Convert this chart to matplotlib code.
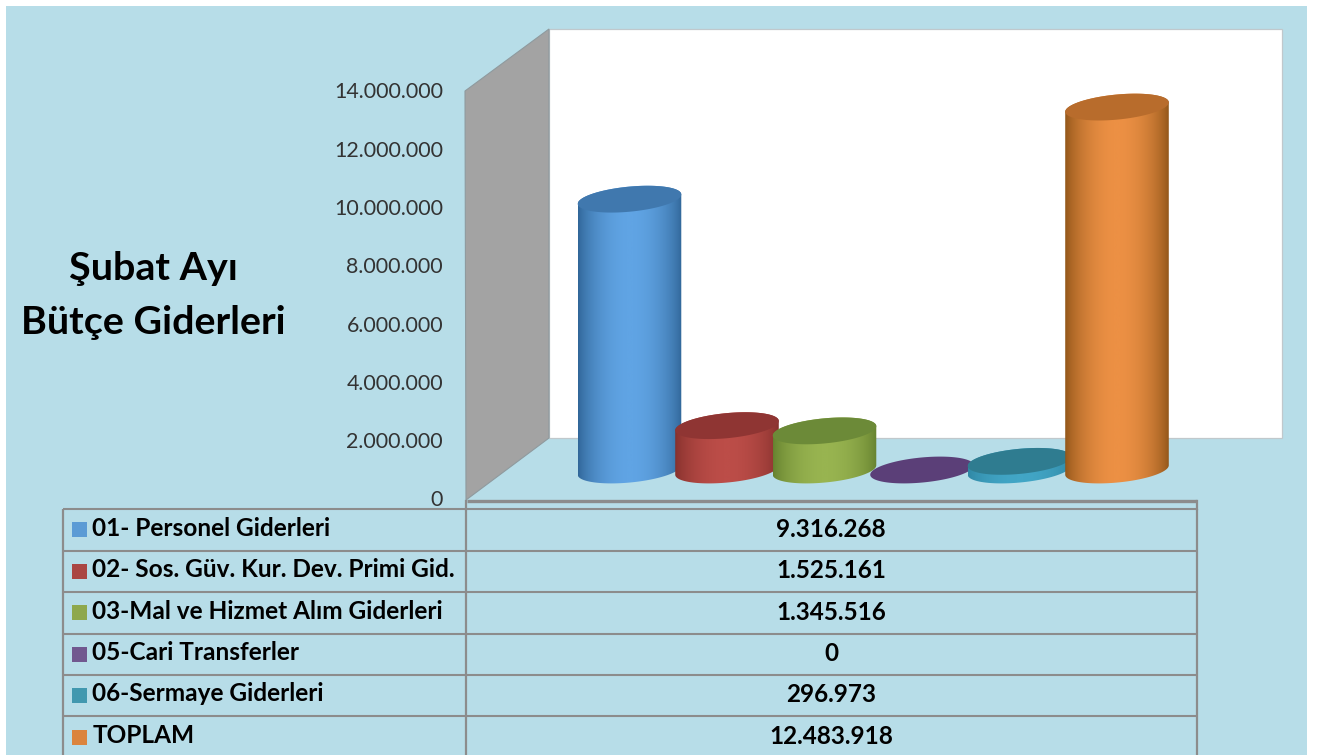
import numpy as np
import matplotlib
matplotlib.use('Agg')
import matplotlib.pyplot as plt
from matplotlib.colors import LinearSegmentedColormap
from matplotlib.path import Path
from matplotlib.patches import Polygon, Rectangle

W, H = 1317, 755

categories = ['01- Personel Giderleri', '02- Sos. Güv. Kur. Dev. Primi Gid.',
              '03-Mal ve Hizmet Alım Giderleri', '05-Cari Transferler',
              '06-Sermaye Giderleri', 'TOPLAM']
values = [9316268, 1525161, 1345516, 0, 296973, 12483918]
yticks = [0, 2000000, 4000000, 6000000, 8000000, 10000000, 12000000, 14000000]
legend_colors = ['#5b9bd5', '#aa4643', '#8ea84c', '#71588f', '#4198af', '#db843d']
side_dark = ['#2f6496', '#84302c', '#64802e', '#5b3f78', '#2f86a3', '#8f5418']
side_light = ['#60a4e4', '#bc4d48', '#98b450', '#5b3f78', '#42a6c6', '#ec9044']
top_colors = ['#4078ae', '#8f3533', '#6c8a38', '#5b3f78', '#2f7c90', '#b86c2c']

BG = '#b7dde8'
LINE = '#8c8c8c'
FONT = 'Lato'

fig = plt.figure(figsize=(W / 100, H / 100), dpi=100, facecolor='white')


def axes_px(x0, y0, x1, y1, **kw):
    # axes from pixel box, y counted from the top of the picture
    return fig.add_axes([x0 / W, 1 - y1 / H, (x1 - x0) / W, (y1 - y0) / H], **kw)


# background, walls
bg = axes_px(0, 0, W, H)
bg.set_xlim(0, W)
bg.set_ylim(H, 0)
bg.axis('off')
bg.add_patch(Rectangle((6, 6), 1301, H, fc=BG, ec='none'))
bg.add_patch(Rectangle((549, 29), 733, 409, fc='white', ec='#c0c8cc', lw=0.9))
bg.add_patch(Polygon([(465, 91), (549, 29), (549, 438), (466, 500)], fc='#a3a3a3', ec='#8f9a9e', lw=0.8))
bg.plot([467, 1197], [501, 501], color=LINE, lw=2.4, solid_capstyle='butt')
bg.text(153.5, 269, 'Şubat Ayı', ha='center', va='center', fontsize=28.4,
        fontweight='bold', family=FONT, color='black')
bg.text(153.5, 323, 'Bütçe Giderleri', ha='center', va='center', fontsize=28.4,
        fontweight='bold', family=FONT, color='black')

# value axis, front edge of the left wall
ax_y = axes_px(465, 90.5, 549, 498.5)
ax_y.patch.set_visible(False)
ax_y.set_ylim(0, 14000000)
ax_y.set_xticks([])
ax_y.set_yticks(yticks)
ax_y.set_yticklabels([f'{v:,}'.replace(',', '.') for v in yticks], family=FONT,
                     fontsize=15.4, color='#333333')
ax_y.tick_params(axis='y', length=0, pad=15.8)
for s in ax_y.spines.values():
    s.set_visible(False)

# bars, same scale as the value axis but standing back on the floor
step = 97.5
ax = axes_px(629.5 - step / 2, 63, 1117 + step / 2, 470)
ax.patch.set_visible(False)
ax.set_xlim(-0.5, 5.5)
ax.set_ylim(0, 14000000)
ax.axis('off')

ux = 1 / step           # x data units for one pixel
uy = 14000000 / 407     # y data units for one pixel
a, b = 52, 12.5
tilt = np.radians(5.5)


def ell(i, v, t):
    dx = a * np.cos(t) * np.cos(tilt) - b * np.sin(t) * np.sin(tilt)
    dy = a * np.cos(t) * np.sin(tilt) + b * np.sin(t) * np.cos(tilt)
    return i + dx * ux, v + dy * uy


t0 = np.arctan2(-b * np.sin(tilt), a * np.cos(tilt))
shade = np.sin(np.linspace(0, np.pi, 256)) ** 0.7
for i, v in enumerate(values):
    if v > 0:
        xb, yb = ell(i, 0, np.linspace(t0, t0 - np.pi, 80))
        xt, yt = ell(i, v, np.linspace(t0 - np.pi, t0 - 2 * np.pi, 80))
        xy = np.column_stack([np.r_[xb, xt], np.r_[yb, yt]])
        cmap = LinearSegmentedColormap.from_list('side', [side_dark[i], side_light[i]])
        im = ax.imshow(shade[None, :], cmap=cmap, aspect='auto',
                       extent=(i - a * ux, i + a * ux, -b * 2 * uy, v + b * 2 * uy),
                       zorder=2 + i, interpolation='bilinear')
        im.set_clip_path(Path(np.vstack([xy, xy[0]]), closed=True), transform=ax.transData)
        im.set_clip_box(fig.bbox)
    xe, ye = ell(i, v, np.linspace(0, 2 * np.pi, 160))
    ax.fill(xe, ye, color=top_colors[i], lw=0, zorder=2 + i + 0.5, clip_on=False)
ax.set_xlim(-0.5, 5.5)
ax.set_ylim(0, 14000000)

# data table under the chart
tb = axes_px(0, 0, W, H)
tb.patch.set_visible(False)
tb.set_xlim(0, W)
tb.set_ylim(H, 0)
tb.axis('off')
rows = [509, 550.5, 592, 633.5, 674.5, 716, 758]
tb.add_patch(Rectangle((63, 509), 1134, 249, fc=BG, ec='none'))
for y in rows:
    tb.plot([63, 1197], [y, y], color=LINE, lw=1.5, solid_capstyle='butt')
for x in [63, 466, 1197]:
    tb.plot([x, x], [509, H], color=LINE, lw=1.6, solid_capstyle='butt')
tb.plot([1197, 1197], [501, 509], color=LINE, lw=1.6)
tb.plot([466, 466], [501, 509], color=LINE, lw=1.6)
for i, name in enumerate(categories):
    yc = (rows[i] + rows[i + 1]) / 2
    tb.add_patch(Rectangle((72, yc - 7.5), 15, 15, fc=legend_colors[i], ec='none'))
    tb.text(92.5, yc + 6, name, ha='left', va='baseline', family=FONT,
            fontweight='bold', fontsize=17.6, color='black')
    tb.text(831, yc + 7, f'{values[i]:,}'.replace(',', '.'), ha='center', va='baseline',
            family=FONT, fontweight='bold', fontsize=17.5, color='black')

fig.savefig('out.png', dpi=100, facecolor='white')
